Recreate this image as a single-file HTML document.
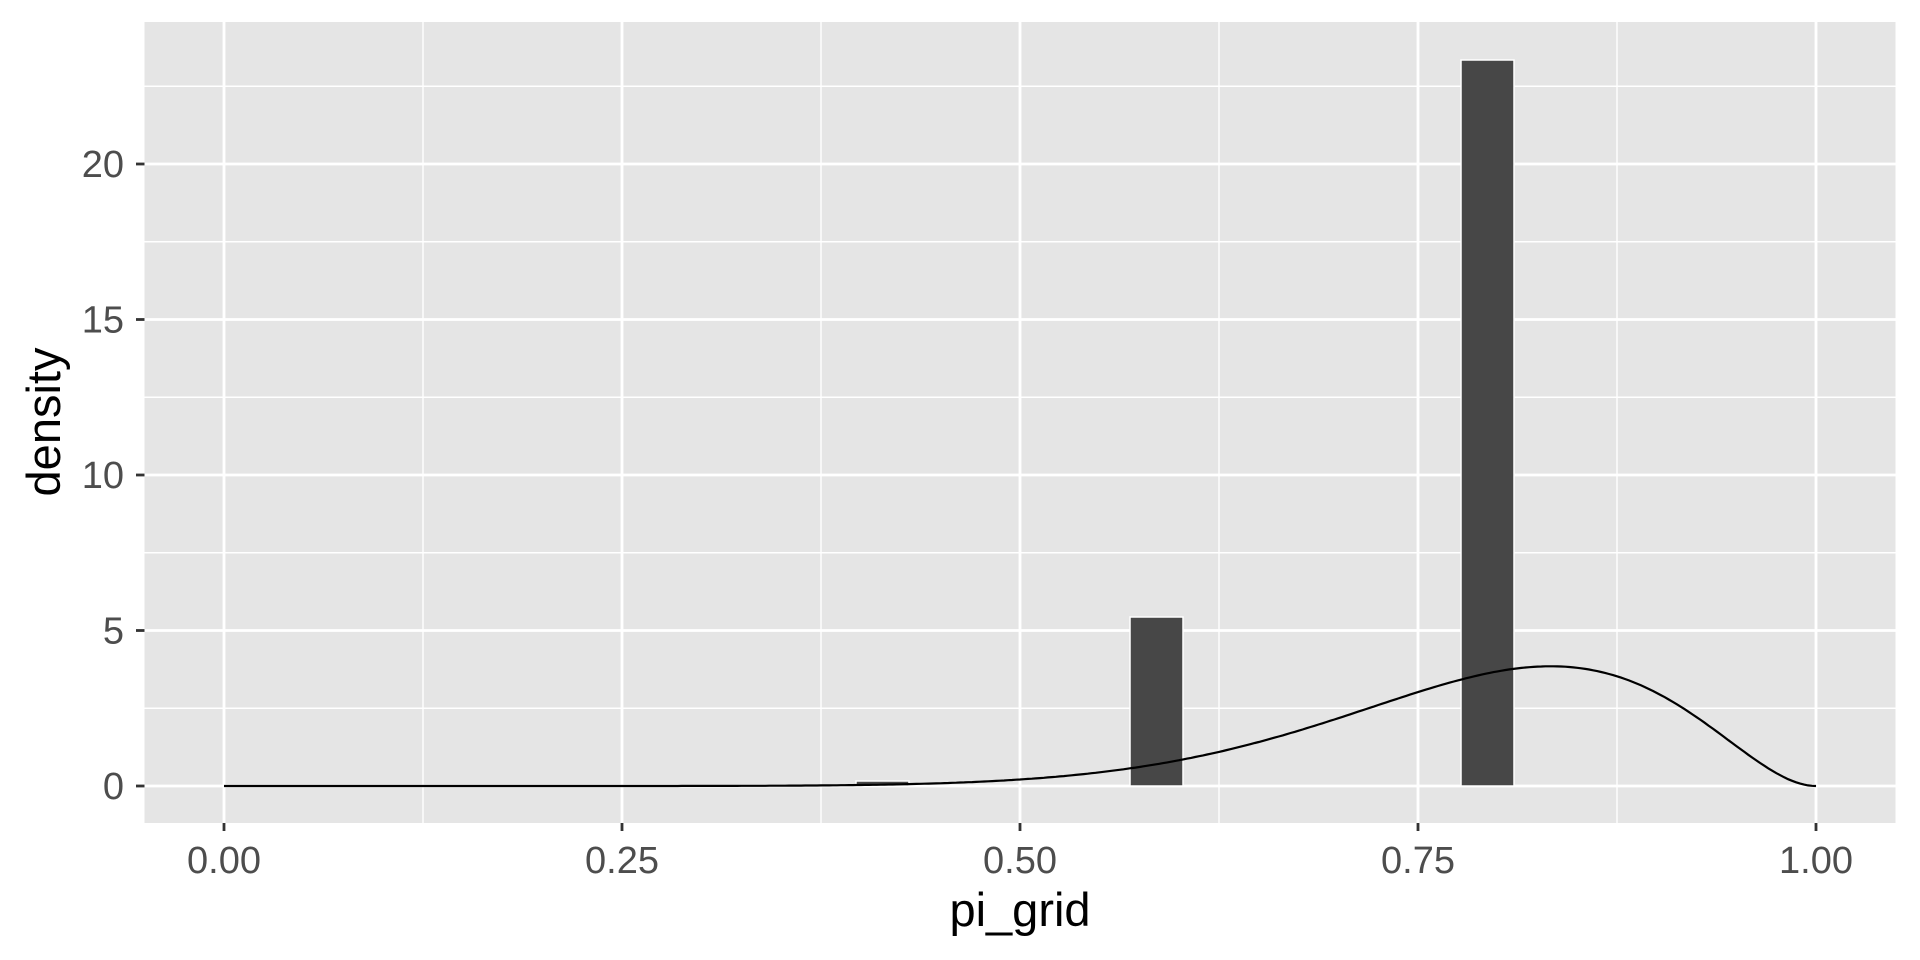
<!DOCTYPE html>
<html><head><meta charset="utf-8"><style>
body{margin:0;background:#fff;}
svg{display:block;font-family:"Liberation Sans",sans-serif;}
</style></head><body>
<svg id="s" width="1920" height="960" xmlns="http://www.w3.org/2000/svg">
<rect x="0" y="0" width="1920" height="960" fill="#fff"/>
<rect x="144.5" y="22" width="1751" height="801" fill="#e5e5e5"/>
<g id="grid"></g>
<g fill="#474747" stroke="#fff" stroke-width="1.5">
<rect x="856" y="781" width="53" height="5"/>
<rect x="1130" y="617" width="53" height="169"/>
<rect x="1461" y="60" width="53" height="726"/>
</g>
<path id="curve" fill="none" stroke="#000" stroke-width="2.2"/>
<g id="ticks" font-size="38" fill="#4d4d4d"></g>
<text x="1020" y="926" font-size="47" text-anchor="middle" fill="#000">pi_grid</text>
<text transform="translate(60,422) rotate(-90)" font-size="47" text-anchor="middle" fill="#000">density</text>
</svg>
<script>
const ns="http://www.w3.org/2000/svg";
const X=v=>224+v*1592, Y=d=>786-d*31.1;
const g=document.getElementById('grid'), t=document.getElementById('ticks');
function line(p,x1,y1,x2,y2,w,c){const l=document.createElementNS(ns,'line');l.setAttribute('x1',x1);l.setAttribute('y1',y1);l.setAttribute('x2',x2);l.setAttribute('y2',y2);l.setAttribute('stroke',c);l.setAttribute('stroke-width',w);p.appendChild(l);}
function txt(x,y,s,a){const e=document.createElementNS(ns,'text');e.setAttribute('x',x);e.setAttribute('y',y);e.setAttribute('text-anchor',a);e.textContent=s;t.appendChild(e);}
for(const v of [0.125,0.375,0.625,0.875]) line(g,X(v),22,X(v),823,1.4,'#fff');
for(const d of [2.5,7.5,12.5,17.5,22.5]) line(g,144.5,Y(d),1895.5,Y(d),1.4,'#fff');
for(const v of [0,0.25,0.5,0.75,1]){line(g,X(v),22,X(v),823,2.8,'#fff');line(t,X(v),823,X(v),831,2.8,'#333');txt(X(v),873,v.toFixed(2),'middle');}
for(const d of [0,5,10,15,20]){line(g,144.5,Y(d),1895.5,Y(d),2.8,'#fff');line(t,136,Y(d),144.5,Y(d),2.8,'#333');txt(124,Y(d)+13,String(d),'end');}
let p='';for(let i=0;i<=400;i++){const x=i/400;const d=858*Math.pow(x,10)*Math.pow(1-x,2);p+=(i?'L':'M')+X(x).toFixed(1)+','+Y(d).toFixed(1);}
document.getElementById('curve').setAttribute('d',p);
</script>
</body></html>
